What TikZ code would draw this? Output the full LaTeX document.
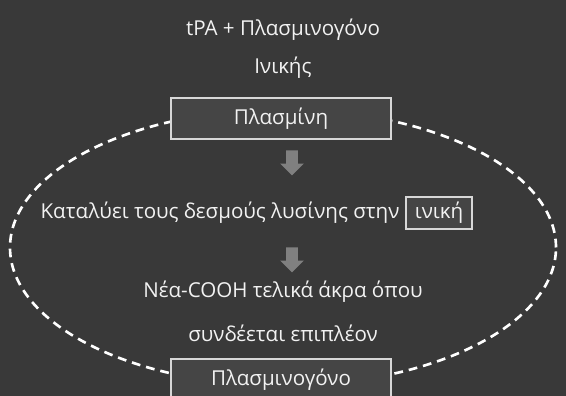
\documentclass[tikz,border=0pt]{standalone}
\usepackage{fontspec}
\setmainfont{Open Sans}
\usepackage{xcolor}
\usetikzlibrary{shapes.arrows}
\definecolor{bgdark}{RGB}{57,57,57}
\definecolor{boxgray}{RGB}{69,69,69}
\definecolor{edgegray}{RGB}{215,215,215}
\definecolor{textwhite}{RGB}{242,242,242}
\definecolor{arrowgray}{RGB}{128,128,128}

\begin{document}
\begin{tikzpicture}[
        font=\fontsize{11.7}{14}\selectfont, text=textwhite,
        labelbox/.style={draw=edgegray, fill=boxgray, thick, minimum width=4.4cm, minimum height=0.82cm, inner sep=0pt},
        downarrow/.style={single arrow, fill=arrowgray, draw=none, rotate=-90, minimum height=0.5cm, single arrow head extend=0.12cm, inner sep=0.11cm}
    ]
        % Background
        \fill[bgdark] (0,0) rectangle (11.32,7.92);
        \useasboundingbox (0,0) rectangle (11.32,7.92);

        % Cycle
        \draw[white, line width=1.5pt, dash pattern=on 5pt off 3.4pt] (5.66,2.97) ellipse (5.46 and 2.76);

        % Heading
        \node (head) at (5.66,7.32) {tPA + Πλασμινογόνο};
        \node (fib) at (5.66,6.56) {Ινικής};

        % Steps
        \node[labelbox] (plasmin) at (5.62,5.55) {Πλασμίνη};
        \node[downarrow] (arr1) at (5.84,4.72) {};
        \node (cut) at (4.40,3.66) {Καταλύει τους δεσμούς λυσίνης στην};
        \node[draw=edgegray, fill=boxgray, thick, minimum width=1.32cm, minimum height=0.64cm, inner sep=0pt] (fibrin) at (8.78,3.66) {ινική};
        \node[downarrow] (arr2) at (5.84,2.78) {};
        \node (ends) at (5.66,2.08) {Νέα-COOH τελικά άκρα όπου};
        \node (binds) at (5.66,1.26) {συνδέεται επιπλέον};
        \node[labelbox] (plasminogen) at (5.62,0.33) {Πλασμινογόνο};

    \end{tikzpicture}
\end{document}
